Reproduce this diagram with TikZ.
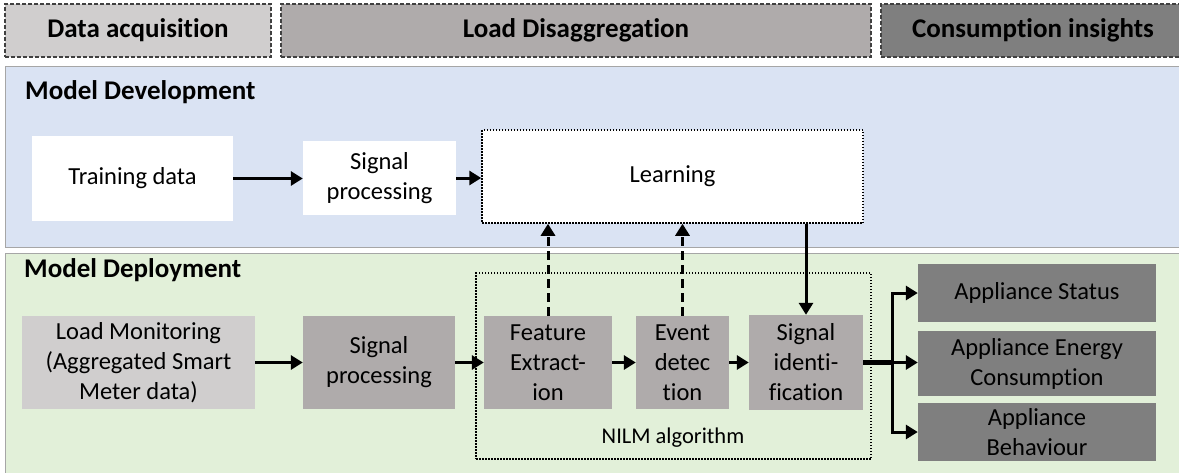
\documentclass[tikz,border=0pt]{standalone}
\usepackage{fontspec}
\setmainfont{Carlito}[Ligatures=NoCommon]
\usetikzlibrary{arrows.meta}

\definecolor{greyA}{HTML}{D0CECE}
\definecolor{greyB}{HTML}{AFABAB}
\definecolor{greyC}{HTML}{7F7F7F}
\definecolor{devbg}{HTML}{DAE3F3}
\definecolor{depbg}{HTML}{E2F0D9}
\definecolor{panelline}{HTML}{A6A6A6}
\definecolor{hdrline}{HTML}{404040}

\begin{document}
\begin{tikzpicture}[x=1pt,y=-1pt,
  hdr/.style={draw=hdrline, dash pattern=on 4pt off 2pt, line width=1.3pt,
    inner sep=0pt, font=\bfseries\fontsize{27}{32}\selectfont},
  panel/.style={draw=panelline, line width=1pt},
  title/.style={anchor=base west, inner sep=0pt, font=\bfseries\fontsize{27}{32}\selectfont},
  box/.style={inner sep=0pt, align=center, font=\fontsize{24.5}{30}\selectfont},
  dotbox/.style={draw=black, line width=1.5pt, dash pattern=on 1.5pt off 1.5pt},
  flow/.style={line width=3pt, -{Triangle[length=12pt,width=14pt]}},
  feedback/.style={flow, dash pattern=on 9pt off 5pt}
]
\useasboundingbox (0,0) rectangle (1179,472);
\clip (0,0) rectangle (1179,472);

% phase headers
\node[hdr, fill=greyA, minimum width=266pt, minimum height=53pt] (acq) at (138,30.5) {Data acquisition};
\node[hdr, fill=greyB, minimum width=590pt, minimum height=53pt] (dis) at (576,30.5) {Load Disaggregation};
\node[hdr, fill=greyC, minimum width=304pt, minimum height=53pt] (ins) at (1033,30.5) {Consumption insights};

% panels
\draw[panel, fill=devbg] (5,66) rectangle (1190,247);
\draw[panel, fill=depbg] (5,253) rectangle (1190,480);
\node[title] (devlabel) at (25,99) {Model Development};
\node[title] (deplabel) at (24,277) {Model Deployment};

% model development
\node[box, fill=white, minimum width=201pt, minimum height=85pt] (train) at (132.5,178.5) {Training data};
\node[box, fill=white, minimum width=153pt, minimum height=74pt] (sigA) at (379.5,178) {Signal\\processing};
\node[box, dotbox, fill=white, minimum width=381pt, minimum height=93pt] (learn) at (672.5,176.5) {Learning};

% NILM algorithm frame
\node[dotbox, minimum width=395pt, minimum height=186pt] (nilm) at (673.5,366) {};
\node[box, font=\fontsize{22.5}{27}\selectfont] (nilmlabel) at (673,438) {NILM algorithm};

% model deployment
\node[box, fill=greyA, minimum width=233pt, minimum height=93pt] (load) at (138.5,362.5) {Load Monitoring\\(Aggregated Smart\\Meter data)};
\node[box, fill=greyB, minimum width=152pt, minimum height=93pt] (sigB) at (379,362.5) {Signal\\processing};
\node[box, fill=greyB, minimum width=128pt, minimum height=93pt] (feat) at (548,362.5) {Feature\\Extract-\\ion};
\node[box, fill=greyB, minimum width=93pt, minimum height=93pt] (event) at (682.5,362.5) {Event\\detec\\tion};
\node[box, fill=greyB, minimum width=114pt, minimum height=95pt] (ident) at (806,362.5) {Signal\\identi-\\fication};

% outputs
\node[box, fill=greyC, minimum width=238pt, minimum height=58pt] (status) at (1037,293) {Appliance Status};
\node[box, fill=greyC, minimum width=238pt, minimum height=65pt] (energy) at (1037,363.5) {Appliance Energy\\Consumption};
\node[box, fill=greyC, minimum width=238pt, minimum height=58pt] (behav) at (1037,432) {Appliance\\Behaviour};

% connectors
\draw[flow] (train.east) -- (train.east -| sigA.west);
\draw[flow] (sigA.east) -- (sigA.east -| learn.west);
\draw[flow] (load.east) -- (sigB.west);
\draw[flow] (sigB.east) -- (feat.west);
\draw[flow] (feat.east) -- (event.west);
\draw[flow] (event.east) -- (ident.west);
\draw[feedback] (feat.north) -- (feat.north |- learn.south);
\draw[feedback] (event.north) -- (event.north |- learn.south);
\draw[flow] (learn.south -| ident.north) -- (ident.north);

\coordinate (split) at (892,362.5);
\draw[line width=5.5pt] (ident.east) -- (split);
\draw[flow] (split) |- (status.west);
\draw[flow] (split) -- (split -| energy.west);
\draw[flow] (split) |- (behav.west);
\end{tikzpicture}
\end{document}
